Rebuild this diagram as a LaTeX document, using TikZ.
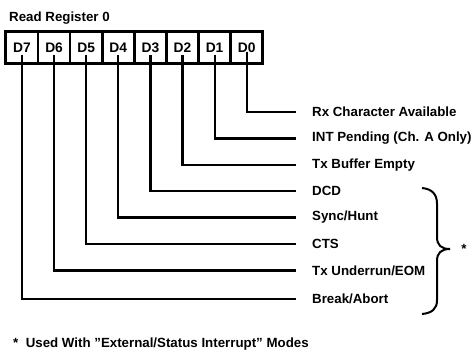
\documentclass[tikz,border=0pt]{standalone}
\usepackage{fontspec}
\setmainfont{Liberation Sans}[Ligatures=ResetAll]
\begin{document}
\begin{tikzpicture}[x=1pt,y=-1pt,
  cell/.style={draw,line width=2.6pt,minimum width=32.1pt,minimum height=32pt,inner sep=0pt,outer sep=0pt,font=\fontsize{13.8}{14}\selectfont\bfseries},
  lbl/.style={anchor=west,inner sep=0pt,font=\fontsize{13.3}{14}\selectfont\bfseries},
  conn/.style={line width=2.2pt}]
\useasboundingbox (0,0) rectangle (473,359);
\node[lbl] (title) at (9,18) {Read Register 0};
\foreach \i [count=\k from 0] in {7,6,5,4,3,2,1,0}
  \node[cell] (d\i) at (22+32.1*\k,47.5) {D\i};
\draw[line width=3pt] (d7.north west) rectangle (d0.south east);
\foreach \i/\y/\t in {0/112/{Rx Character Available},1/138.5/{INT Pending (Ch. A Only)},2/165/{Tx Buffer Empty},3/191/{DCD},4/217.5/{Sync/Hunt},5/244/{CTS},6/270.5/{Tx Underrun/EOM},7/299/{Break/Abort}}
  \node[lbl] (l\i) at (312,\y) {\t};
\foreach \i in {1,...,7}
  \draw[conn] ([yshift=9pt]d\i.south) |- ([xshift=-16pt]l\i.west);
\draw[conn] ([yshift=12pt]d0.south) |- ([xshift=-16pt]l0.west);
\coordinate (bt) at (422,188);
\coordinate (btip) at (450,249);
\coordinate (bb) at (422,314);
\draw[line width=2pt] (bt) .. controls (432,189) and (437,194) .. (437,204)
  -- (437,237) .. controls (437,245) and (441,249) .. (btip)
  .. controls (441,249) and (437,253) .. (437,261)
  -- (437,300) .. controls (437,309) and (432,313) .. (bb);
\node[inner sep=0pt,font=\fontsize{13.3}{14}\selectfont\bfseries] (star) at (464,249) {*};
\node[lbl] (foot) at (13,344) {*\ \ Used With "External/Status Interrupt" Modes};
\end{tikzpicture}
\end{document}
